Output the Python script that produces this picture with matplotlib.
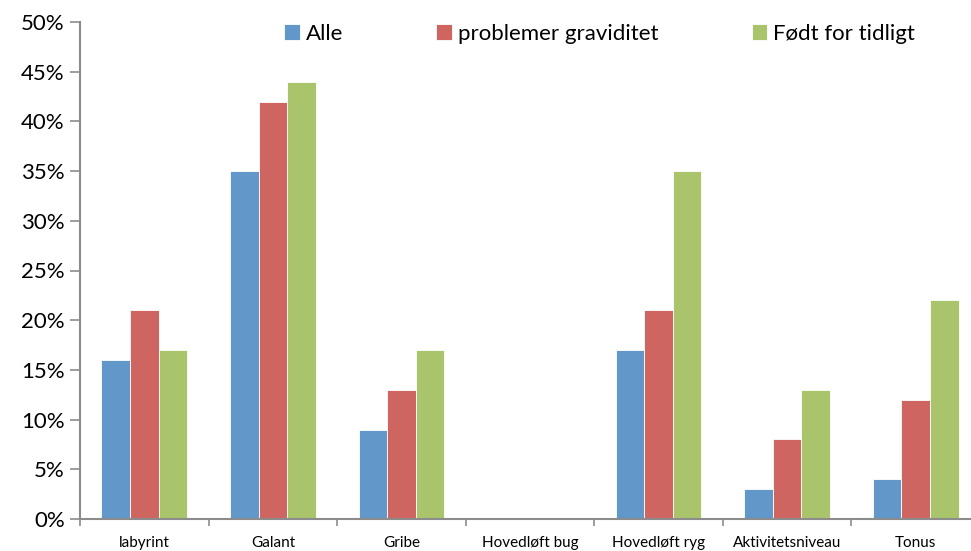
import numpy as np
import matplotlib
matplotlib.use("Agg")
import matplotlib.pyplot as plt
from matplotlib.ticker import FuncFormatter

categories = ["labyrint", "Galant", "Gribe", "Hovedløft bug",
              "Hovedløft ryg", "Aktivitetsniveau", "Tonus"]
alle = [16, 35, 9, 0, 17, 3, 4]
problemer = [21, 42, 13, 0, 21, 8, 12]
foedt = [17, 44, 17, 0, 35, 13, 22]
series_names = ["Alle", "problemer graviditet", "Født for tidligt"]
colors = ["#6297CA", "#CE6561", "#AAC46B"]

plt.rcParams["font.family"] = ["Lato", "DejaVu Sans"]

fig = plt.figure(figsize=(9.71, 5.51), dpi=100)
ax = fig.add_axes([80 / 971, 1 - 519 / 551, 900 / 971, 497 / 551])

x = np.arange(len(categories))
width = 1 / 4.5
for i, (vals, name, col) in enumerate(zip([alle, problemer, foedt], series_names, colors)):
    ax.bar(x + (i - 1) * width, vals, width, color=col, label=name,
           edgecolor="white", linewidth=0.6)

ax.set_xlim(-0.5, len(categories) - 0.5)
ax.set_ylim(0, 50)
ax.set_yticks(range(0, 51, 5))
ax.yaxis.set_major_formatter(FuncFormatter(lambda v, p: f"{int(v)}%"))

ax.set_xticks(x)
ax.set_xticklabels(categories, fontsize=11)
ax.set_xticks(np.arange(-0.5, len(categories), 1), minor=True)
ax.tick_params(axis="x", which="major", length=0, pad=12)
ax.tick_params(axis="x", which="minor", length=5, color="#8c8c8c", width=1.2)
ax.tick_params(axis="y", length=7, color="#8c8c8c", width=1.2, labelsize=16, pad=4)

for s in ["top", "right"]:
    ax.spines[s].set_visible(False)
for s in ["left", "bottom"]:
    ax.spines[s].set_color("#8c8c8c")
    ax.spines[s].set_linewidth(1.5)

fig.legend(loc="center left", bbox_to_anchor=(273 / 971, 1 - 34 / 551),
           ncol=3, frameon=False, fontsize=16, borderpad=0,
           handlelength=0.7, handleheight=0.7, handletextpad=0.27,
           columnspacing=4.2)

fig.savefig("out.png", dpi=100)
